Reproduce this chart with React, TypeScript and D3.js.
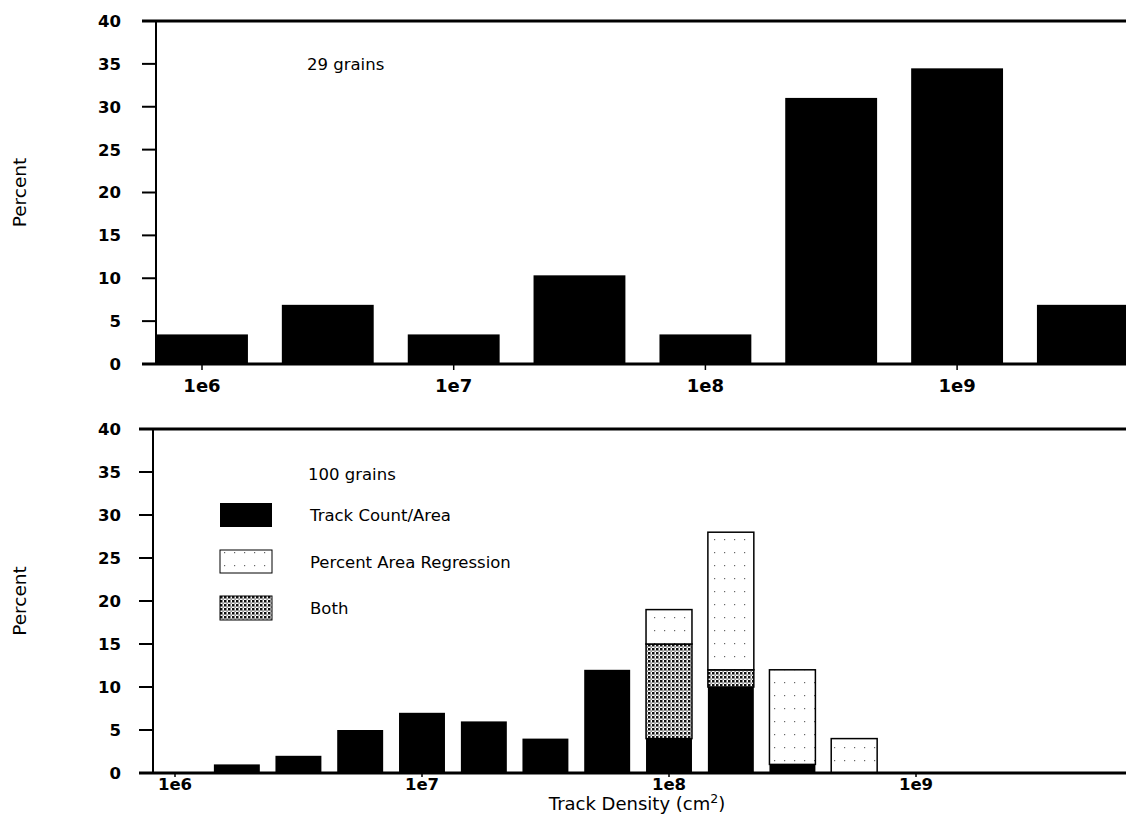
import * as d3 from "d3";

// --- data ---
// top panel: half-decade bins, 29 grains
const topDensity = [1e6, 3.16e6, 1e7, 3.16e7, 1e8, 3.16e8, 1e9, 3.16e9];
const topPercent = [3.45, 6.9, 3.45, 10.34, 3.45, 31.03, 34.48, 6.9];

// bottom panel: quarter-decade bins, 100 grains
const bottomDensity = [
  1e6, 1.78e6, 3.16e6, 5.62e6, 1e7, 1.78e7, 3.16e7, 5.62e7,
  1e8, 1.78e8, 3.16e8, 5.62e8, 1e9, 1.78e9, 3.16e9, 5.62e9,
];
const trackCount = [0, 1, 2, 5, 7, 6, 4, 12, 4, 10, 1, 0, 0, 0, 0, 0];
const both = [0, 0, 0, 0, 0, 0, 0, 0, 11, 2, 0, 0, 0, 0, 0, 0];
const areaRegression = [0, 0, 0, 0, 0, 0, 0, 0, 4, 16, 11, 4, 0, 0, 0, 0];

const yTicks = [0, 5, 10, 15, 20, 25, 30, 35, 40];
const xTicks = [1e6, 1e7, 1e8, 1e9];
const xTickLabels = ["1e6", "1e7", "1e8", "1e9"];

const W = 1126;
const H = 824;
const FONT = "DejaVu Sans, Liberation Sans, sans-serif";

function YAxis({ y, left, right }: { y: d3.ScaleLinear<number, number>; left: number; right: number }) {
  return (
    <g>
      {yTicks.map((t) => (
        <g key={t}>
          <line x1={left - 14} x2={left} y1={y(t)} y2={y(t)} stroke="#000" strokeWidth={2} />
          <text
            x={121}
            y={y(t)}
            dy="0.36em"
            textAnchor="end"
            fontFamily={FONT}
            fontWeight="bold"
            fontSize={16.5}
          >
            {t}
          </text>
        </g>
      ))}
      <line x1={left} x2={left} y1={y(40)} y2={y(0)} stroke="#000" strokeWidth={2} />
      <line x1={left - 14} x2={right} y1={y(40)} y2={y(40)} stroke="#000" strokeWidth={3} />
    </g>
  );
}

function XAxis({ x, y0, left, right, labelY, size, tick }: { x: d3.ScaleLogarithmic<number, number>; y0: number; left: number; right: number; labelY: number; size: number; tick: number }) {
  return (
    <g>
      <line x1={left - 14} x2={right} y1={y0} y2={y0} stroke="#000" strokeWidth={3} />
      {xTicks.map((t, i) => (
        <g key={t}>
          <line x1={x(t)} x2={x(t)} y1={y0} y2={y0 + tick} stroke="#000" strokeWidth={1.5} />
          <text x={x(t)} y={labelY} textAnchor="middle" fontFamily={FONT} fontWeight="bold" fontSize={size}>
            {xTickLabels[i]}
          </text>
        </g>
      ))}
    </g>
  );
}

export default function App() {
  // top panel scales
  const topDecade = 251.7;
  const topLeft = 156;
  const xTop = d3
    .scaleLog()
    .domain([10 ** (6 - 46 / topDecade), 10 ** (6 - 46 / topDecade + (W - topLeft) / topDecade)])
    .range([topLeft, W]);
  const yTop = d3.scaleLinear().domain([0, 40]).range([364, 21]);
  const topHalf = 0.1825; // bar half-width in decades

  // bottom panel scales
  const botDecade = 247;
  const botLeft = 153;
  const xBot = d3
    .scaleLog()
    .domain([10 ** (6 - 22 / botDecade), 10 ** (6 - 22 / botDecade + (W - botLeft) / botDecade)])
    .range([botLeft, W]);
  const yBot = d3.scaleLinear().domain([0, 40]).range([773, 429]);
  const botHalf = 0.093;

  const rows = bottomDensity.map((d, i) => ({
    density: d,
    tc: trackCount[i],
    both: both[i],
    par: areaRegression[i],
  }));
  const keys = ["tc", "both", "par"];
  const stacked = d3.stack<any>().keys(keys)(rows);
  const fills: Record<string, string> = { tc: "#000", both: "url(#dense)", par: "url(#sparse)" };

  const edge = (d: number, half: number, sign: number) => d * 10 ** (sign * half);

  return (
    <svg width={W} height={H} style={{ position: "absolute", left: 0, top: 0, background: "#fff" }}>
      <defs>
        <pattern id="sparse" width={10} height={13} patternUnits="userSpaceOnUse">
          <rect width={10} height={13} fill="#fff" />
          <rect x={4} y={6} width={1.2} height={1.2} fill="#666" />
        </pattern>
        <pattern id="dense" width={4} height={4} patternUnits="userSpaceOnUse">
          <rect width={4} height={4} fill="#fff" />
          <rect x={0} y={0} width={2.5} height={2.5} fill="#111" />
          <rect x={2.5} y={2.5} width={1.2} height={1.2} fill="#333" />
        </pattern>
      </defs>

      {/* ---------- top panel ---------- */}
      <g>
        {topDensity.map((d, i) => {
          const x0 = xTop(edge(d, topHalf, -1));
          const x1 = Math.min(xTop(edge(d, topHalf, 1)), W);
          return (
            <rect
              key={i}
              x={x0}
              y={yTop(topPercent[i])}
              width={x1 - x0}
              height={yTop(0) - yTop(topPercent[i])}
              fill="#000"
            />
          );
        })}
        <YAxis y={yTop} left={topLeft} right={W} />
        <XAxis x={xTop} y0={yTop(0)} left={topLeft} right={W} labelY={392} size={18} tick={6} />
        <text x={307} y={70} fontFamily={FONT} fontSize={16.5}>
          29 grains
        </text>
        <text
          transform={`translate(26,${(yTop(0) + yTop(40)) / 2}) rotate(-90)`}
          textAnchor="middle"
          fontFamily={FONT}
          fontSize={18.5}
        >
          Percent
        </text>
      </g>

      {/* ---------- bottom panel ---------- */}
      <g>
        {stacked.map((layer) =>
          layer.map((s, i) => {
            const v = s[1] - s[0];
            if (v <= 0) return null;
            const d = bottomDensity[i];
            const x0 = xBot(edge(d, botHalf, -1));
            const x1 = xBot(edge(d, botHalf, 1));
            return (
              <rect
                key={layer.key + i}
                x={x0}
                y={yBot(s[1])}
                width={x1 - x0}
                height={yBot(s[0]) - yBot(s[1])}
                fill={fills[layer.key]}
                stroke="#000"
                strokeWidth={layer.key === "tc" ? 0 : 1.5}
              />
            );
          })
        )}
        <YAxis y={yBot} left={botLeft} right={W} />
        <XAxis x={xBot} y0={yBot(0)} left={botLeft} right={W} labelY={790} size={16.5} tick={4} />
        <text x={308} y={480} fontFamily={FONT} fontSize={16.5}>
          100 grains
        </text>

        {/* legend */}
        <rect x={220} y={503} width={52} height={24} fill="#000" />
        <text x={310} y={521} fontFamily={FONT} fontSize={16.5}>
          Track Count/Area
        </text>
        <rect x={220} y={550} width={52} height={23} fill="url(#sparse)" stroke="#000" strokeWidth={1} />
        <text x={310} y={568} fontFamily={FONT} fontSize={16.5}>
          Percent Area Regression
        </text>
        <rect x={220} y={596} width={52} height={24} fill="url(#dense)" stroke="#000" strokeWidth={1} />
        <text x={310} y={614} fontFamily={FONT} fontSize={16.5}>
          Both
        </text>

        <text
          transform={`translate(26,${(yBot(0) + yBot(40)) / 2}) rotate(-90)`}
          textAnchor="middle"
          fontFamily={FONT}
          fontSize={18.5}
        >
          Percent
        </text>
        <text x={637} y={810} textAnchor="middle" fontFamily={FONT} fontSize={18}>
          Track Density (cm
          <tspan dy={-7} fontSize={12.5}>
            2
          </tspan>
          <tspan dy={7}>)</tspan>
        </text>
      </g>
    </svg>
  );
}
